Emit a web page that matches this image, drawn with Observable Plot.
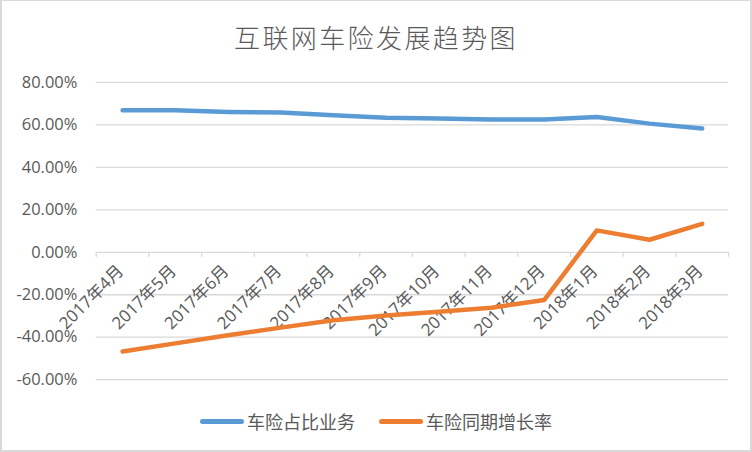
<!DOCTYPE html>
<html>
<head>
<meta charset="utf-8">
<script src="https://cdn.jsdelivr.net/npm/d3@7"></script>
<script src="https://cdn.jsdelivr.net/npm/@observablehq/plot@0.6"></script>
<style>
  html, body { margin: 0; padding: 0; background: #fff; }
  #wrap { position: relative; width: 752px; height: 452px; box-sizing: border-box;
          border: 2px solid #d9d9d9; border-top-width: 1px; background: #fff;
          font-family: "Open Sans", "Noto Sans CJK SC", sans-serif; color: #595959; overflow: hidden; }
  #title { position: absolute; left: 0; right: 0; top: 18px; text-align: center;
           font-family: "Noto Sans CJK SC", sans-serif;
           font-size: 26px; font-weight: 300; letter-spacing: 2.4px; line-height: 36px; color: #595959; }
  #chart { position: absolute; left: -2px; top: 61px; }
  #legend { position: absolute; left: 0; right: 0; top: 407px; display: flex; justify-content: center;
            align-items: center; font-size: 18px; line-height: 26px; color: #595959;
            font-family: "Noto Sans CJK SC", sans-serif; }
  .item { display: flex; align-items: center; margin: 0 12px; }
  .swatch { width: 44px; height: 5px; border-radius: 3px; margin-right: 3px; }
</style>
</head>
<body>
<div id="wrap">
  <div id="title"></div>
  <div id="chart"></div>
  <div id="legend"></div>
</div>
<script>
const titleText = "互联网车险发展趋势图";
const months = ["2017年4月","2017年5月","2017年6月","2017年7月","2017年8月","2017年9月","2017年10月","2017年11月","2017年12月","2018年1月","2018年2月","2018年3月"];
const seriesNames = ["车险占比业务", "车险同期增长率"];
const seriesColors = ["#5B9BD5", "#ED7D31"];
const shareValues = [66.9, 66.9, 66.1, 65.8, 64.5, 63.4, 63.0, 62.5, 62.5, 63.7, 60.6, 58.3];
const growthValues = [-46.7, -42.9, -39.1, -35.5, -32.0, -29.8, -28.0, -26.1, -22.5, 10.3, 5.9, 13.4];
const yTicks = [-60, -40, -20, 0, 20, 40, 60, 80];
const yTickLabels = ["-60.00%", "-40.00%", "-20.00%", "0.00%", "20.00%", "40.00%", "60.00%", "80.00%"];

document.getElementById("title").textContent = titleText;

const boundaries = d3.range(months.length + 1);
const pos = (d, i) => i + 0.5;
const fontStack = "'Open Sans', 'Noto Sans CJK SC', sans-serif";

const plot = Plot.plot({
  width: 752,
  height: 340,
  marginLeft: 96,
  marginRight: 22,
  marginTop: 20,
  marginBottom: 22,
  style: { fontFamily: fontStack, color: "#595959", background: "transparent", overflow: "visible" },
  x: { domain: [0, months.length], axis: null },
  y: { domain: [-60, 80], axis: null },
  marks: [
    Plot.gridY(yTicks, { stroke: "#d9d9d9", strokeOpacity: 1, strokeWidth: 1.3 }),
    Plot.axisY(yTicks, { tickSize: 0, tickPadding: 19, fontSize: 16.5, fill: "#595959",
      tickFormat: (d) => yTickLabels[yTicks.indexOf(d)], label: null }),
    Plot.ruleX(boundaries, { x: d => d, y1: 0, y2: 0, insetBottom: -5, stroke: "#d9d9d9", strokeWidth: 1.3 }),
    Plot.text(months, { x: pos, y: 0, text: d => d, rotate: -45, textAnchor: "end",
      dx: -2, dy: 16, fontSize: 17, fill: "#595959" }),
    Plot.line(shareValues, { x: pos, y: d => d, stroke: seriesColors[0], strokeWidth: 4.5,
      strokeLinecap: "round", strokeLinejoin: "round" }),
    Plot.line(growthValues, { x: pos, y: d => d, stroke: seriesColors[1], strokeWidth: 4.5,
      strokeLinecap: "round", strokeLinejoin: "round" })
  ]
});
document.getElementById("chart").appendChild(plot);

const legend = document.getElementById("legend");
seriesNames.forEach((name, i) => {
  const item = document.createElement("div");
  item.className = "item";
  const sw = document.createElement("span");
  sw.className = "swatch";
  sw.style.background = seriesColors[i];
  const lab = document.createElement("span");
  lab.textContent = name;
  item.appendChild(sw);
  item.appendChild(lab);
  legend.appendChild(item);
});
</script>
</body>
</html>
